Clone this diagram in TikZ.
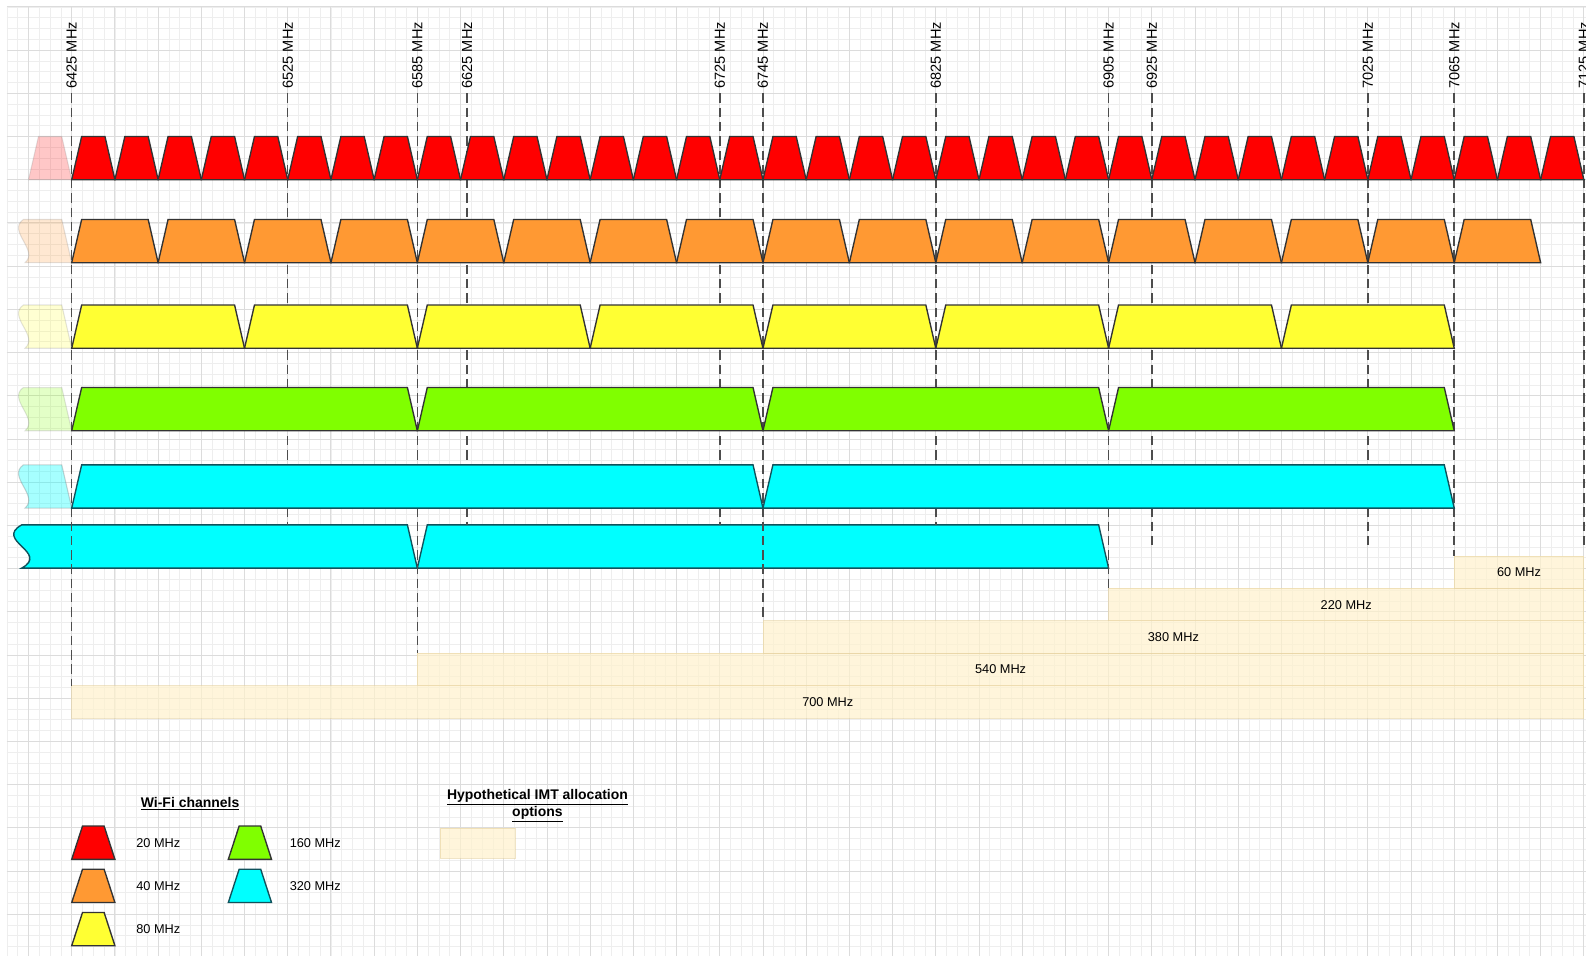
\documentclass[tikz,border=0pt]{standalone}
\usepackage{fontspec}
\setmainfont{Liberation Sans}
\usepackage{xcolor}
\usetikzlibrary{positioning, calc}

\definecolor{wred}{HTML}{FF0000}
\definecolor{worange}{HTML}{FF9933}
\definecolor{wyellow}{HTML}{FFFF33}
\definecolor{wgreen}{HTML}{80FF00}
\definecolor{wcyan}{HTML}{00FFFF}
\definecolor{imtfill}{HTML}{FFF2CC}
\definecolor{imtline}{HTML}{E6D2A0}
\definecolor{guidegray}{HTML}{4D4D4D}
\definecolor{gridmaj}{HTML}{DCDCDC}
\definecolor{gridmin}{HTML}{EEEEEE}

\begin{document}
\begin{tikzpicture}[
        chan/.style={draw=black!80, line width=0.9pt, line join=miter},
        cyanchan/.style={chan, draw={rgb,255:red,16;green,82;blue,92}, fill=wcyan},
        fade/.style={draw=black!50, line width=0.7pt, opacity=0.22},
        imt/.style={draw=imtline, fill=imtfill, fill opacity=0.7, draw opacity=0.6, text opacity=1, line width=0.6pt, outer sep=0pt, inner sep=0pt, anchor=north west, minimum height=0.75cm, font=\fontsize{8.4}{10}\selectfont},
        freq/.style={rotate=90, anchor=east, inner sep=3pt, font=\fontsize{9.6}{11}\selectfont},
        guide/.style={draw=guidegray, line width=1pt, dash pattern=on 6.2pt off 3.2pt},
        keylbl/.style={anchor=west, inner sep=0pt, font=\fontsize{8.4}{10}\selectfont},
        head/.style={align=center, inner sep=0pt, font=\fontsize{9.2}{9.9}\selectfont\bfseries}
    ]
        \useasboundingbox (-1.66,0) rectangle (35.05,-22.106);
        \fill[white] (-1.66,0) rectangle (35.05,-22.106);

        % Cuadricula
        \begin{scope}[yshift=-0.16cm]
            \draw[gridmin, line width=0.5pt, step=0.25] (-1.5,0) grid (35.1,-22);
            \draw[gridmaj, line width=0.6pt, step=1] (-1.5,0) grid (35.1,-22);
        \end{scope}

        % Opciones IMT
        \node[imt, minimum width=35cm] (b700) at (0,-15.87) {700 MHz};
        \node[imt, minimum width=27cm] (b540) at (8,-15.12) {540 MHz};
        \node[imt, minimum width=19cm] (b380) at (16,-14.37) {380 MHz};
        \node[imt, minimum width=11cm] (b220) at (24,-13.62) {220 MHz};
        \node[imt, minimum width=3cm] (b60) at (32,-12.87) {60 MHz};

        % 320 MHz (desplazados)
        \begin{scope}[yshift=-12.15cm]
            \draw[cyanchan] (-1.16,-1) .. controls (-0.5,-0.64) and (-1.8,-0.36) .. (-1.16,0) -- (7.77,0) -- (8,-1) -- cycle;
            \draw[cyanchan] (8,-1) -- (8.23,0) -- (23.77,0) -- (24,-1) -- cycle;
        \end{scope}

        % Frecuencias
        \foreach \f/\x in {6425/0, 6525/5, 6585/8, 6625/9.15, 6725/15, 6745/16, 6825/20, 6905/24, 6925/25, 7025/30, 7065/32, 7125/35}
            \node[freq] (f\f) at (\x,-0.4) {\f\ MHz};

        \coordinate (c2top) at (0,-12.15);
        \coordinate (lowend) at (0,-12.65);

        \draw[guide] (f6425.west) -- (b700.north west);
        \draw[guide] (f6585.west) -- (b540.north west);
        \draw[guide] (f6745.west) -- (b380.north west);
        \draw[guide] (f6905.west) -- (b220.north west);
        \draw[guide] (f7065.west) -- (b60.north west);
        \foreach \f in {6525,6625,6725,6825}
            \draw[guide] (f\f.west) -- (f\f.west |- c2top);
        \foreach \f in {6925,7025,7125}
            \draw[guide] (f\f.west) -- (f\f.west |- lowend);

        % 20 MHz
        \begin{scope}[yshift=-3.16cm]
            \draw[fade, fill=wred] (-1,-1) -- (-0.77,0) -- (-0.23,0) -- (0,-1) -- cycle;
            \foreach \a in {0,...,34}
                \draw[chan, fill=wred] (\a,-1) -- (\a+0.23,0) -- (\a+0.77,0) -- (\a+1,-1) -- cycle;
        \end{scope}

        % 40 MHz
        \begin{scope}[yshift=-5.08cm]
            \draw[fade, fill=worange] (-1.08,-1) .. controls (-0.75,-0.71) and (-1.5,-0.27) .. (-1.12,0) -- (-0.23,0) -- (0,-1) -- cycle;
            \foreach \a in {0,2,...,32}
                \draw[chan, fill=worange] (\a,-1) -- (\a+0.23,0) -- (\a+1.77,0) -- (\a+2,-1) -- cycle;
        \end{scope}

        % 80 MHz
        \begin{scope}[yshift=-7.06cm]
            \draw[fade, fill=wyellow] (-1.08,-1) .. controls (-0.75,-0.71) and (-1.5,-0.27) .. (-1.12,0) -- (-0.23,0) -- (0,-1) -- cycle;
            \foreach \a in {0,4,...,28}
                \draw[chan, fill=wyellow] (\a,-1) -- (\a+0.23,0) -- (\a+3.77,0) -- (\a+4,-1) -- cycle;
        \end{scope}

        % 160 MHz
        \begin{scope}[yshift=-8.97cm]
            \draw[fade, fill=wgreen] (-1.08,-1) .. controls (-0.75,-0.71) and (-1.5,-0.27) .. (-1.12,0) -- (-0.23,0) -- (0,-1) -- cycle;
            \foreach \a in {0,8,16,24}
                \draw[chan, fill=wgreen] (\a,-1) -- (\a+0.23,0) -- (\a+7.77,0) -- (\a+8,-1) -- cycle;
        \end{scope}

        % 320 MHz
        \begin{scope}[yshift=-10.76cm]
            \draw[fade, fill=wcyan, opacity=0.35] (-1.08,-1) .. controls (-0.75,-0.71) and (-1.5,-0.27) .. (-1.12,0) -- (-0.23,0) -- (0,-1) -- cycle;
            \foreach \a in {0,16}
                \draw[cyanchan] (\a,-1) -- (\a+0.23,0) -- (\a+15.77,0) -- (\a+16,-1) -- cycle;
        \end{scope}

        % Leyenda
        \node[head] (wifihead) at (2.74,-18.6) {\underline{Wi-Fi channels}};
        \foreach \c/\t/\y in {wred/20/0, worange/40/1, wyellow/80/2} {
            \draw[chan, fill=\c] (0,-19.89-\y) -- (0.25,-19.12-\y) -- (0.75,-19.12-\y) -- (1,-19.89-\y) -- cycle;
            \node[keylbl] (k\t) at (1.49,-19.51-\y) {\t\ MHz};
        }
        \draw[chan, fill=wgreen] (3.625,-19.89) -- (3.875,-19.12) -- (4.375,-19.12) -- (4.625,-19.89) -- cycle;
        \node[keylbl] (k160) at (5.04,-19.51) {160 MHz};
        \draw[cyanchan] (3.625,-20.89) -- (3.875,-20.12) -- (4.375,-20.12) -- (4.625,-20.89) -- cycle;
        \node[keylbl] (k320) at (5.04,-20.51) {320 MHz};

        \node[head] (imthead) at (10.78,-18.65) {\underline{Hypothetical IMT allocation}\\\underline{options}};
        \node[imt, minimum width=1.74cm, minimum height=0.69cm] (imtkey) at (8.53,-19.17) {};

    \end{tikzpicture}
\end{document}
